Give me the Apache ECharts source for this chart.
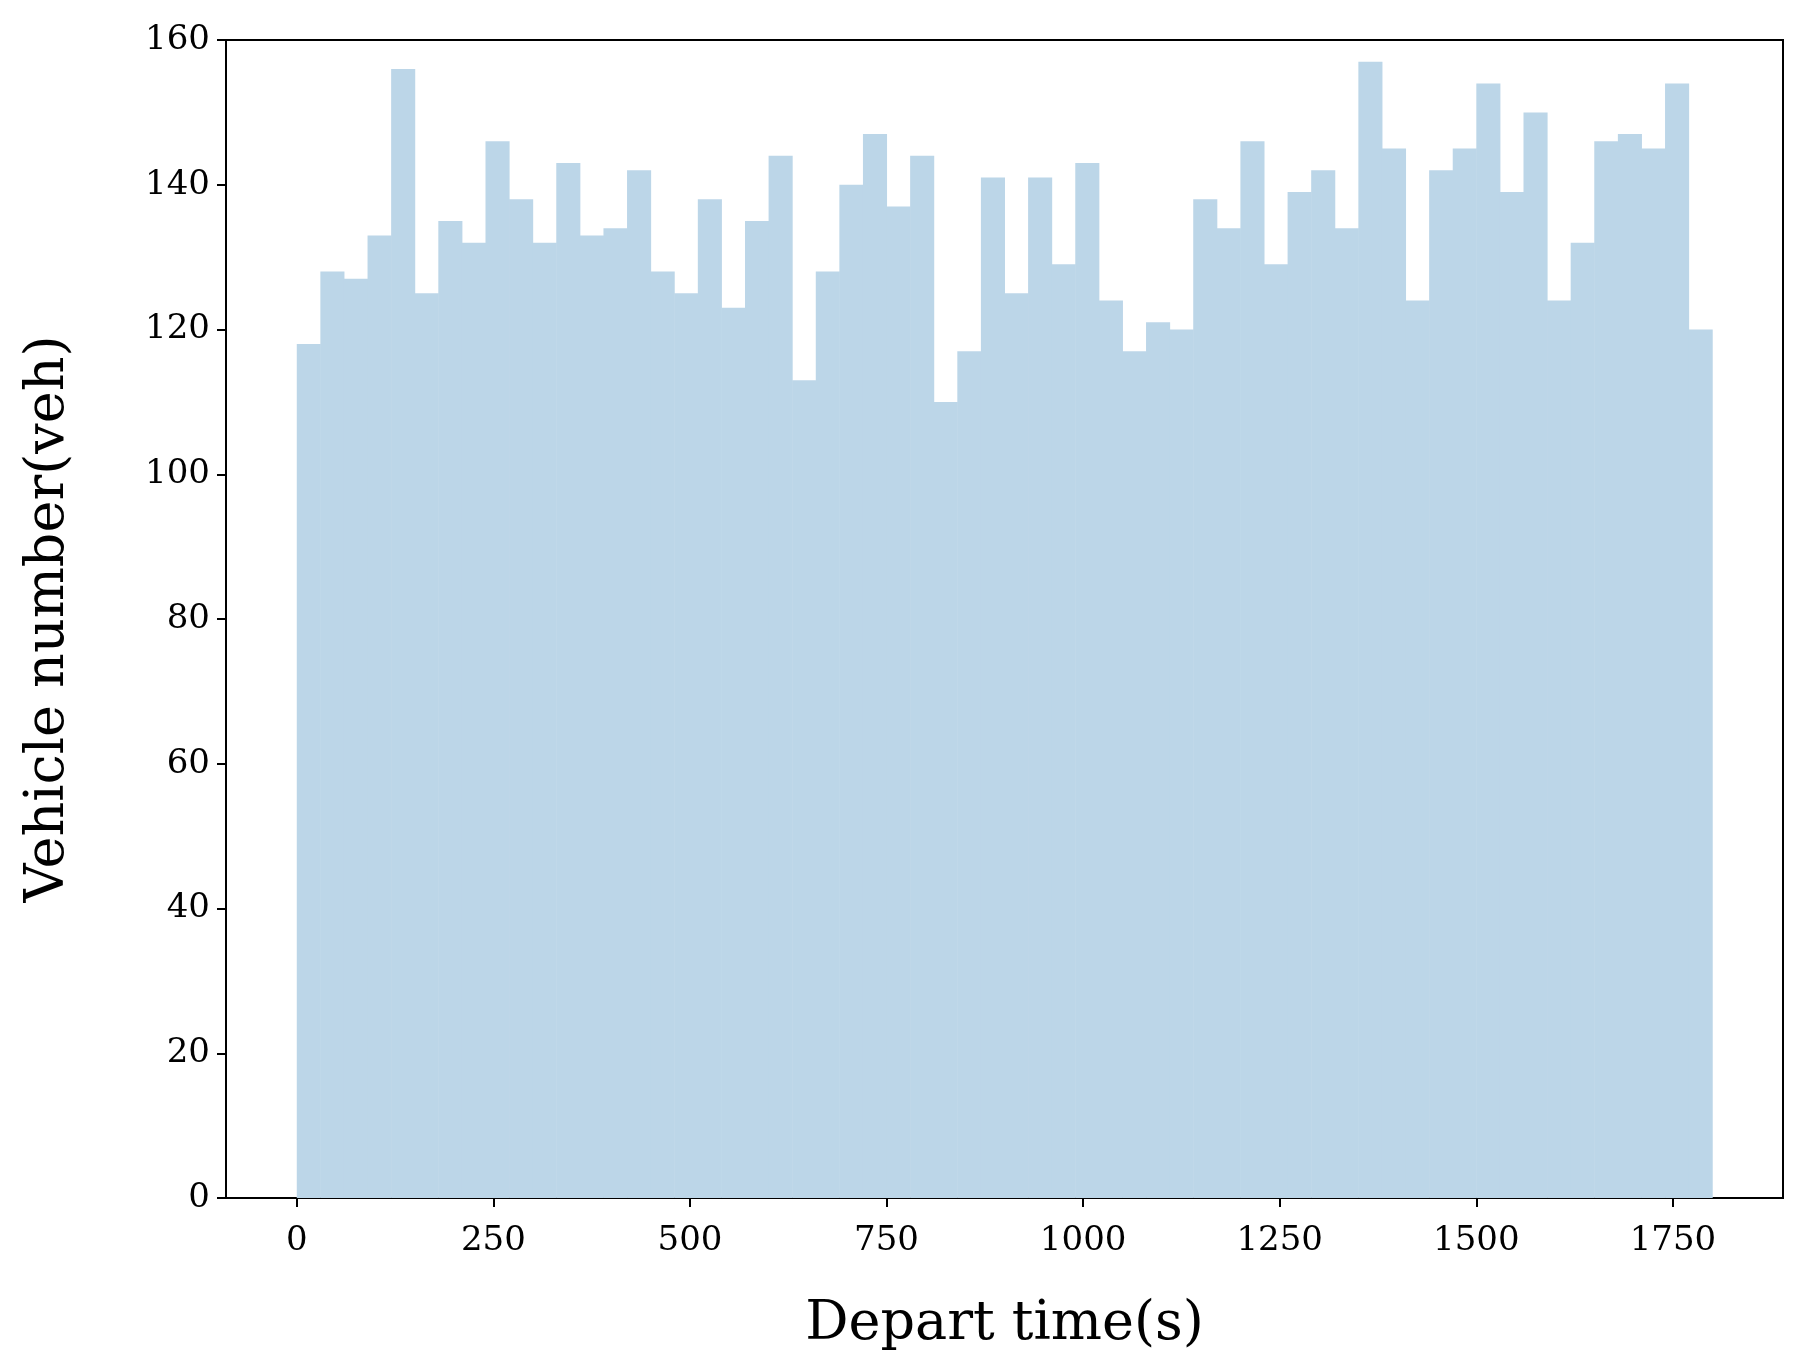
<!DOCTYPE html>
<html><head><meta charset="utf-8">
<script src="https://cdn.jsdelivr.net/npm/echarts@6/dist/echarts.min.js"></script>
<style>html,body{margin:0;padding:0;background:#fff}#c{width:1800px;height:1361px}</style>
</head><body><div id="c"></div>
<script>
const binWidth = 30;
const counts = [118,128,127,133,156,125,135,132,146,138,132,143,133,134,142,128,125,138,123,135,
144,113,128,140,147,137,144,110,117,141,125,141,129,143,124,117,121,120,138,134,
146,129,139,142,134,157,145,124,142,145,154,139,150,124,132,146,147,145,154,120];
const xTicks = [0,250,500,750,1000,1250,1500,1750];
const data = counts.map((v,i)=>[i*binWidth,(i+1)*binWidth,v]);
const font = '"DejaVu Serif", "Liberation Serif", serif';
const chart = echarts.init(document.getElementById('c'));
chart.setOption({
  animation:false,
  grid:{left:226,right:17,top:40,bottom:163,show:true,borderColor:'#000',borderWidth:2,backgroundColor:'transparent'},
  xAxis:{type:'value',min:-90,max:1890,
    name:'Depart time(s)',nameLocation:'middle',nameGap:100,
    nameTextStyle:{fontFamily:font,fontSize:54,color:'#000'},
    axisLine:{show:true,onZero:false,lineStyle:{color:'#000',width:2}},
    axisTick:{show:true,length:9,lineStyle:{color:'#000',width:2},customValues:xTicks},
    axisLabel:{fontFamily:font,fontSize:34,color:'#000',margin:26,customValues:xTicks,formatter:v=>String(v)},
    splitLine:{show:false}},
  yAxis:{type:'value',min:0,max:160,interval:20,
    name:'Vehicle number(veh)',nameLocation:'middle',nameGap:150,
    nameTextStyle:{fontFamily:font,fontSize:54,color:'#000'},
    axisLine:{show:true,onZero:false,lineStyle:{color:'#000',width:2}},
    axisTick:{show:true,length:9,lineStyle:{color:'#000',width:2}},
    axisLabel:{fontFamily:font,fontSize:34,color:'#000',margin:16,formatter:v=>String(v)},
    splitLine:{show:false}},
  series:[{type:'custom',data:data,
    encode:{x:[0,1],y:2},
    renderItem:function(params,api){
      const p0=api.coord([api.value(0),api.value(2)]);
      const p1=api.coord([api.value(1),0]);
      return {type:'rect',shape:{x:p0[0],y:p0[1],width:p1[0]-p0[0]+0.5,height:p1[1]-p0[1]},
        style:{fill:'#bcd6e8'}};
    }}]
});
</script></body></html>
